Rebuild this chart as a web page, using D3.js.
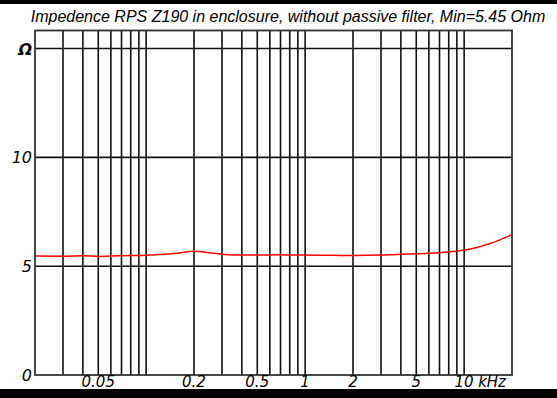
<!DOCTYPE html>
<html>
<head>
<meta charset="utf-8">
<script src="https://cdn.jsdelivr.net/npm/d3@7"></script>
<style>
  html, body { margin: 0; padding: 0; background: #fff; }
  svg { display: block; }
</style>
</head>
<body>
<svg id="chart" width="557" height="398"></svg>
<script>
// Impedance curve: frequency in kHz, magnitude in ohms
const freqKHz = [0.02, 0.03, 0.04, 0.05, 0.06, 0.07, 0.1, 0.15, 0.2, 0.25, 0.3, 0.4, 0.5, 0.7, 1, 1.5, 2, 3, 4, 5, 6, 7, 8, 9, 10, 12, 15, 20];
const impedanceOhm = [5.47, 5.46, 5.48, 5.45, 5.47, 5.48, 5.5, 5.58, 5.69, 5.62, 5.55, 5.51, 5.51, 5.52, 5.51, 5.5, 5.49, 5.51, 5.55, 5.57, 5.59, 5.62, 5.66, 5.69, 5.74, 5.86, 6.07, 6.45];

// Grid frequencies and axis labels
const gridFreqs = [0.03, 0.04, 0.05, 0.06, 0.07, 0.08, 0.09, 0.1, 0.2, 0.3, 0.4, 0.5, 0.6, 0.7, 0.8, 0.9, 1, 2, 3, 4, 5, 6, 7, 8, 9, 10];
const xTickValues = [0.05, 0.2, 0.5, 1, 2, 5, 10];
const xTickLabels = ["0.05", "0.2", "0.5", "1", "2", "5", "10"];
const yGridValues = [5, 10, 15];
const yTickValues = [0, 5, 10, 15];
const yTickLabels = ["0", "5", "10", "\u03A9"];

const title = "Impedence RPS Z190 in enclosure, without passive filter, Min=5.45 Ohm";

const svg = d3.select("#chart");
const W = 557, H = 398;
const plot = { left: 35, right: 512, top: 30.5, bottom: 375 };

const x = d3.scaleLog().domain([0.02, 20]).range([plot.left, plot.right]);
const y = d3.scaleLinear().domain([0, 15.83]).range([plot.bottom, plot.top]);

// outer frame bands
svg.append("rect").attr("x", 0).attr("y", 0).attr("width", W).attr("height", 4).attr("fill", "#000");
svg.append("rect").attr("x", 0).attr("y", 389).attr("width", W).attr("height", H - 389).attr("fill", "#000");

// title
svg.append("text")
  .attr("x", 288).attr("y", 22)
  .attr("text-anchor", "middle")
  .attr("font-family", "Liberation Sans, Arial, sans-serif")
  .attr("font-style", "italic")
  .attr("font-size", 16)
  .attr("fill", "#000")
  .text(title);

const gridColor = "#111";

// vertical grid
svg.append("g").selectAll("line").data(gridFreqs).join("line")
  .attr("x1", d => x(d)).attr("x2", d => x(d))
  .attr("y1", plot.top).attr("y2", plot.bottom)
  .attr("stroke", gridColor).attr("stroke-width", 1.6);

// horizontal grid
svg.append("g").selectAll("line").data(yGridValues).join("line")
  .attr("x1", plot.left).attr("x2", plot.right)
  .attr("y1", d => y(d)).attr("y2", d => y(d))
  .attr("stroke", gridColor).attr("stroke-width", 1.6);

// plot frame
svg.append("rect")
  .attr("x", plot.left).attr("y", plot.top)
  .attr("width", plot.right - plot.left).attr("height", plot.bottom - plot.top)
  .attr("fill", "none").attr("stroke", "#333").attr("stroke-width", 1.8);

// y labels
svg.append("g").selectAll("text").data(yTickValues).join("text")
  .attr("x", 32)
  .attr("y", d => y(d) + 6)
  .attr("text-anchor", "end")
  .attr("font-family", "DejaVu Sans, sans-serif")
  .attr("font-style", "italic")
  .attr("font-weight", (d, i) => yTickLabels[i] === "\u03A9" ? "bold" : "normal")
  .attr("font-size", 16)
  .attr("fill", "#000")
  .text((d, i) => yTickLabels[i]);

// x labels
svg.append("g").selectAll("text").data(xTickValues).join("text")
  .attr("x", d => x(d))
  .attr("y", 387)
  .attr("text-anchor", "middle")
  .attr("font-family", "DejaVu Sans, sans-serif")
  .attr("font-style", "italic")
  .attr("font-size", 15)
  .attr("fill", "#000")
  .text((d, i) => xTickLabels[i]);

// unit after the last tick
svg.append("text")
  .attr("x", x(10) + 14).attr("y", 387)
  .attr("font-family", "DejaVu Sans, sans-serif")
  .attr("font-style", "italic")
  .attr("font-size", 15)
  .attr("fill", "#000")
  .text("kHz");

// impedance curve
const line = d3.line()
  .x((d, i) => x(freqKHz[i]))
  .y(d => y(d))
  .curve(d3.curveMonotoneX);

svg.append("path")
  .datum(impedanceOhm)
  .attr("d", line)
  .attr("fill", "none")
  .attr("stroke", "#ff0000")
  .attr("stroke-width", 1.5);
</script>
</body>
</html>
